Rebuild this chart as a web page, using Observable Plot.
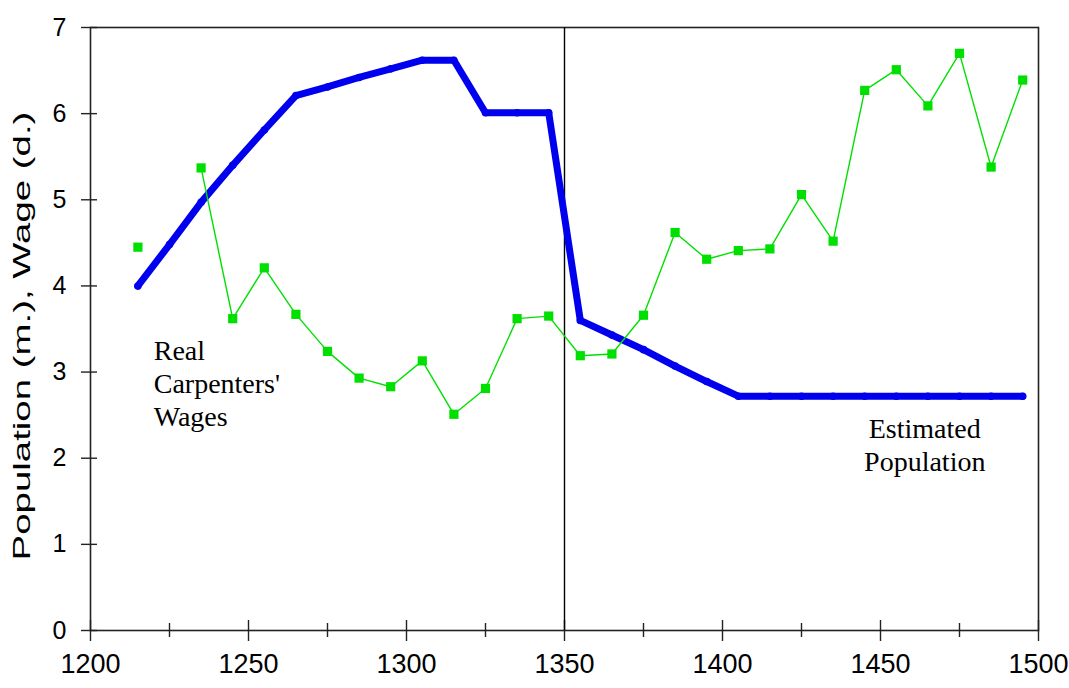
<!DOCTYPE html>
<html>
<head>
<meta charset="utf-8">
<script src="https://cdn.jsdelivr.net/npm/d3@7"></script>
<script src="https://cdn.jsdelivr.net/npm/@observablehq/plot@0.6"></script>
<style>
  html, body { margin: 0; padding: 0; background: #fff; }
</style>
</head>
<body>
<div id="chart"></div>
<script>
const years = [1215,1225,1235,1245,1255,1265,1275,1285,1295,1305,1315,1325,1335,1345,1355,1365,1375,1385,1395,1405,1415,1425,1435,1445,1455,1465,1475,1485,1495];
const population = [4.0,4.48,4.97,5.4,5.81,6.21,6.31,6.42,6.52,6.62,6.62,6.01,6.01,6.01,3.6,3.43,3.26,3.07,2.89,2.72,2.72,2.72,2.72,2.72,2.72,2.72,2.72,2.72,2.72];
const wages = [4.45,null,5.37,3.62,4.21,3.67,3.24,2.93,2.83,3.13,2.51,2.81,3.62,3.65,3.19,3.21,3.66,4.62,4.31,4.41,4.43,5.06,4.52,6.27,6.51,6.09,6.70,5.38,6.39];
const xMajorTicks = [1200,1250,1300,1350,1400,1450,1500];
const xMinorTicks = [1225,1275,1325,1375,1425,1475];
const yTicks = [0,1,2,3,4,5,6,7];
const plagueYear = [1350];
const yLabel = "Population (m.), Wage (d.)";
const wageLabel = {text: "Real\nCarpenters'\nWages", x: 1220, y: 3.41};
const popLabel = {text: "Estimated\nPopulation", x: 1464, y: 2.51};

const popData = years.map((year, i) => ({year, value: population[i]}));
const wageData = years.map((year, i) => ({year, value: wages[i]}));
const wagePoints = wageData.filter(d => d.value != null);

const blue = "#0000ee";
const green = "#00e000";
const serif = "'Liberation Serif', 'Times New Roman', serif";

const chart = Plot.plot({
  width: 1069,
  height: 688,
  marginLeft: 90,
  marginRight: 31,
  marginTop: 27,
  marginBottom: 58,
  style: {background: "#fff", fontFamily: "'Liberation Sans', Arial, sans-serif", color: "#000"},
  x: {domain: [1200, 1500]},
  y: {domain: [0, 7]},
  marks: [
    Plot.frame({stroke: "#222", strokeWidth: 1.6}),
    Plot.ruleX(xMajorTicks, {x: d => d, y1: 0, y2: 0, insetTop: -10, insetBottom: -11, stroke: "#222", strokeWidth: 1.4}),
    Plot.ruleX(xMinorTicks, {x: d => d, y1: 0, y2: 0, insetTop: -7, insetBottom: -7, stroke: "#222", strokeWidth: 1.4}),
    Plot.ruleY(yTicks, {y: d => d, x1: 1200, x2: 1200, insetLeft: -9, insetRight: -7, stroke: "#222", strokeWidth: 1.4}),
    Plot.axisX({ticks: xMajorTicks, tickSize: 0, tickPadding: 23, tickFormat: d => String(d), fontSize: 27, label: null}),
    Plot.axisY({ticks: yTicks, tickSize: 0, tickPadding: 24, tickFormat: d => String(d), fontSize: 25, label: null}),
    Plot.text([yLabel], {frameAnchor: "left", textAnchor: "middle", rotate: -90, dx: -68, dy: 7, fontSize: 23, fill: "#000", className: "ylabel"}),
    Plot.ruleX(plagueYear, {x: d => d, stroke: "#000", strokeWidth: 1.4}),
    Plot.line(popData, {x: "year", y: "value", stroke: blue, strokeWidth: 7, strokeLinejoin: "round"}),
    Plot.dot(popData, {x: "year", y: "value", r: 3.8, fill: blue}),
    Plot.line(wageData, {x: "year", y: "value", stroke: green, strokeWidth: 1.4}),
    Plot.dot(wagePoints, {x: "year", y: "value", symbol: "square", r: 5.2, fill: green}),
    Plot.text([wageLabel], {x: "x", y: "y", text: "text", textAnchor: "start", lineAnchor: "top", lineHeight: 1.18, fontSize: 28, fontFamily: serif, fill: "#000"}),
    Plot.text([popLabel], {x: "x", y: "y", text: "text", textAnchor: "middle", lineAnchor: "top", lineHeight: 1.18, fontSize: 28, fontFamily: serif, fill: "#000"})
  ]
});
// stretch the rotated axis title along its baseline like the reference
d3.select(chart).selectAll("g.ylabel text").each(function() {
  const t = this.getAttribute("transform") || "";
  this.setAttribute("transform", t + " scale(1.67,1)");
});
document.getElementById("chart").appendChild(chart);
</script>
</body>
</html>
